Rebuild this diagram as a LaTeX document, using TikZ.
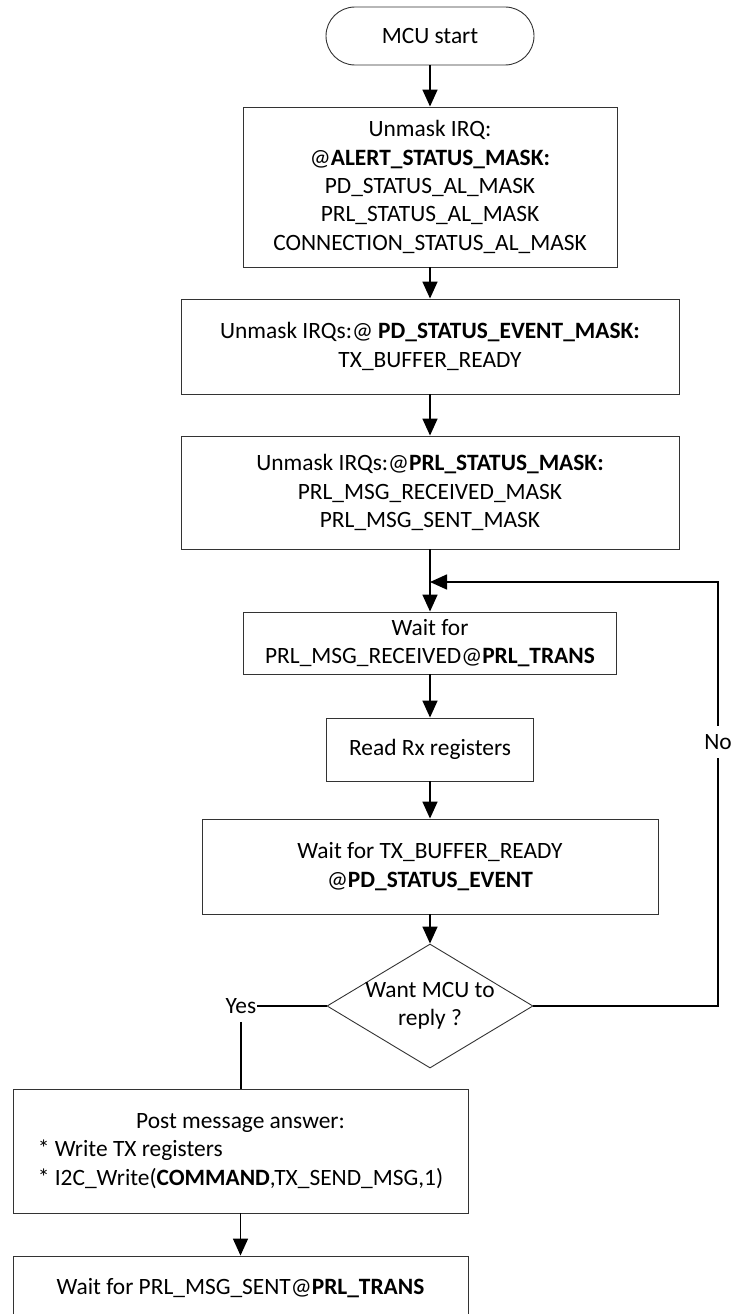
\documentclass[tikz,border=0pt]{standalone}
\usepackage{fontspec}
\setmainfont{Carlito}
\usetikzlibrary{arrows.meta,shapes.geometric}
\begin{document}
\begin{tikzpicture}[x=1pt,y=-1pt,
  txt/.style={inner sep=0pt,align=center,font=\fontsize{23.4}{28.4}\selectfont},
  box/.style={txt,draw=black!80,line width=0.9pt},
  arr/.style={line width=1.6pt,-{Triangle[length=17pt,width=15pt]}},
  ln/.style={line width=1.6pt},
  lbl/.style={font=\fontsize{23.4}{28.4}\selectfont,inner xsep=1pt,inner ysep=8pt}]
\useasboundingbox (0,0) rectangle (731,1314);
\node[box,rounded corners=29pt,minimum width=208pt,minimum height=58pt] (start) at (430,36) {MCU start};
\node[box,minimum width=374pt,minimum height=160pt] (b1) at (430,187)
  {Unmask IRQ:\\ @\textbf{ALERT\_STATUS\_MASK:}\\ PD\_STATUS\_AL\_MASK\\ PRL\_STATUS\_AL\_MASK\\ CONNECTION\_STATUS\_AL\_MASK};
\node[box,minimum width=498pt,minimum height=95pt] (b2) at (430,346.5)
  {Unmask IRQs:@ \textbf{PD\_STATUS\_EVENT\_MASK:}\\ TX\_BUFFER\_READY};
\node[box,minimum width=498pt,minimum height=113pt] (b3) at (430,492.5)
  {Unmask IRQs:@\textbf{PRL\_STATUS\_MASK:}\\ PRL\_MSG\_RECEIVED\_MASK\\ PRL\_MSG\_SENT\_MASK};
\node[box,minimum width=373pt,minimum height=62pt] (b4) at (430,643)
  {Wait for\\ PRL\_MSG\_RECEIVED@\textbf{PRL\_TRANS}};
\node[box,minimum width=207pt,minimum height=63pt] (b5) at (430,749.5) {Read Rx registers};
\node[box,minimum width=456pt,minimum height=95pt] (b6) at (430,866.5)
  {Wait for TX\_BUFFER\_READY\\ @\textbf{PD\_STATUS\_EVENT}};
\node[draw=black!80,line width=0.9pt,diamond,minimum width=206pt,minimum height=124pt,inner sep=0pt] (dia) at (430,1006) {};
\node[txt] (diatext) at (dia.center) {Want MCU to\\ reply ?};
\node[box,minimum width=455pt,minimum height=124pt] (b7) at (240.5,1151)
  {\begin{tabular}{@{}l@{}}\multicolumn{1}{@{}c@{}}{Post message answer:}\\ {*} Write TX registers\\ {*} I2C\_Write(\textbf{COMMAND},TX\_SEND\_MSG,1)\end{tabular}};
\node[box,minimum width=455pt,minimum height=64pt] (b8) at (240.5,1288)
  {Wait for PRL\_MSG\_SENT@\textbf{PRL\_TRANS}};
\node[lbl] (yes) at (241,1006) {Yes};
\coordinate (loopR) at (718,582);
\coordinate (join) at (430,582);
\draw[arr] (start.south) -- (b1.north);
\draw[arr] (b1.south) -- (b2.north);
\draw[arr] (b2.south) -- (b3.north);
\draw[arr] (b3.south) -- (b4.north);
\draw[arr] (b4.south) -- (b5.north);
\draw[arr] (b5.south) -- (b6.north);
\draw[arr] (b6.south) -- (dia.north);
\draw[arr] (dia.east) -| (loopR) -- (join);
\node[lbl,fill=white] (no) at (718,742) {No};
\draw[ln] (dia.west) -- (yes.east);
\draw[ln] (yes.south) -- (yes.south |- b7.north);
\draw[arr] (b7.south) -- (b8.north);
\end{tikzpicture}
\end{document}
